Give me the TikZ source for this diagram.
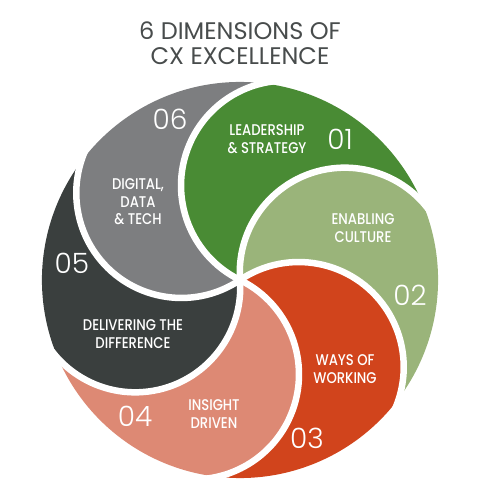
\documentclass[tikz,border=0pt]{standalone}
\usepackage{fontspec}
\setmainfont{Poppins}
\newfontfamily\labelfont{Poppins Medium}[FakeStretch=0.85]
\newfontfamily\numfont{Poppins Light}
\usetikzlibrary{positioning}

\definecolor{leadgreen}{RGB}{73,139,52}
\definecolor{cultgreen}{RGB}{154,180,122}
\definecolor{waysred}{RGB}{209,68,28}
\definecolor{insightpink}{RGB}{221,137,116}
\definecolor{delivgrey}{RGB}{58,63,62}
\definecolor{digigrey}{RGB}{125,126,128}
\definecolor{titlegrey}{RGB}{72,76,76}

\begin{document}
\begin{tikzpicture}[
  x=1pt, y=1pt,
  sep/.style={draw=white, line width=6.5pt},
  label/.style={text=white, align=center,
    font=\labelfont\fontsize{15.5}{17.5}\selectfont},
  num/.style={text=white, font=\numfont\fontsize{28}{28}\selectfont},
]
  \useasboundingbox (0,0) rectangle (480,500);
  \coordinate (C) at (240,220);

  % petals, clockwise from leadership
  \foreach \a/\col in {64/leadgreen, 4/cultgreen, -56/waysred,
                       -116/insightpink, -176/delivgrey, 124/digigrey}{
    \pgfmathsetmacro\sa{\a+180}
    \pgfmathsetmacro\ea{\a+38.8}
    \pgfmathsetmacro\so{\a+19.4}
    \pgfmathsetmacro\eo{\a-40.6}
    \pgfmathsetmacro\sb{\a-21.2}
    \pgfmathsetmacro\eb{\a+120}
    \fill[\col] (C) arc[start angle=\sa, end angle=\ea, radius=105pt]
      arc[start angle=\so, end angle=\eo, radius=198pt]
      arc[start angle=\sb, end angle=\eb, radius=105pt] -- cycle;
  }
  % white gaps between petals
  \foreach \a in {64, 4, -56, -116, -176, 124}{
    \pgfmathsetmacro\sa{\a+180}
    \pgfmathsetmacro\ea{\a+30}
    \draw[sep] (C) arc[start angle=\sa, end angle=\ea, radius=105pt];
  }

  \node[text=titlegrey, align=center,
    font=\fontsize{24}{25}\selectfont] (title) at (240,457)
    {6 DIMENSIONS OF\\CX EXCELLENCE};

  \node[label] (lead)    at (267,361) {LEADERSHIP\\\& STRATEGY};
  \node[num]   (n01)     at (340,361) {01};
  \node[label] (cult)    at (363,272) {ENABLING\\CULTURE};
  \node[num]   (n02)     at (410,205) {02};
  \node[label] (ways)    at (345,131) {WAYS OF\\WORKING};
  \node[num]   (n03)     at (307,62)  {03};
  \node[label] (insight) at (214,86)  {INSIGHT\\DRIVEN};
  \node[num]   (n04)     at (135,84)  {04};
  \node[label] (deliv)   at (133,166) {DELIVERING THE\\DIFFERENCE};
  \node[num]   (n05)     at (72,237)  {05};
  \node[label] (digi)    at (138,298) {DIGITAL,\\DATA\\\& TECH};
  \node[num]   (n06)     at (170,381) {06};
\end{tikzpicture}
\end{document}
